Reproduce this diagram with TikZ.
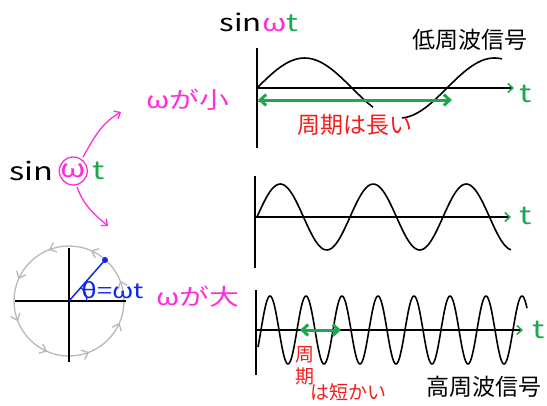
\documentclass[tikz,border=0pt]{standalone}
\usepackage{fontspec}
\newfontfamily\jpfont{Noto Sans CJK JP}
\newfontfamily\widefont[FakeStretch=1.3]{Noto Sans CJK JP}
\usetikzlibrary{arrows.meta, positioning, decorations.markings}
\definecolor{wmag}{HTML}{FF2EDC}
\definecolor{tgreen}{HTML}{1CA84E}
\definecolor{perred}{HTML}{F51C1C}
\definecolor{rotblue}{HTML}{0F28EB}
\definecolor{circgray}{HTML}{B8B8B8}

\begin{document}
\begin{tikzpicture}[x=1pt, y=-1pt,
    lbl/.style={font=\jpfont\fontsize{23}{23}\selectfont, inner sep=0pt},
    wlbl/.style={font=\widefont\fontsize{23}{23}\selectfont, inner sep=0pt},
    big/.style={font=\widefont\fontsize{25}{25}\selectfont, inner sep=0pt},
    sml/.style={font=\jpfont\fontsize{19}{19}\selectfont, inner sep=0pt},
    axis/.style={line width=1.6pt, -{Straight Barb[color=tgreen, length=5pt, width=9pt]}},
    wave/.style={line width=1.6pt, line join=round, smooth},
    period/.style={tgreen, line width=3pt, {Straight Barb[length=6pt, width=11pt]}-{Straight Barb[length=6pt, width=11pt]}},
    wbranch/.style={wmag, line width=1.3pt, -{Straight Barb[length=5pt, width=9pt]}}]

  \useasboundingbox (0,0) rectangle (547,405);

  % sin wt on the left, with the circled omega
  \node[big, anchor=west] (sinL) at (9,171) {sin};
  \node[big, text=wmag, right=7pt of sinL] (omg) {ω};
  \draw[wmag, line width=1.3pt] (omg) circle (14);
  \node[big, text=tgreen, right=6pt of omg] (tL) {t};
  \coordinate (upEnd) at (121,112);
  \coordinate (dnEnd) at (108,226);
  \draw[wbranch] (83,157) to[out=60, in=210] (upEnd);
  \draw[wbranch] (77,187) to[out=-70, in=140] (dnEnd);
  \node[wlbl, text=wmag] (small) at (188,100) {ωが小};
  \node[wlbl, text=wmag] (large) at (198,297) {ωが大};

  % rotating vector
  \coordinate (c0) at (69,301);
  \coordinate (rp) at (105,260);
  \draw[circgray, line width=1.3pt, postaction={decorate},
    decoration={markings, mark=between positions 0.06 and 1 step 0.125 with {\arrow{Straight Barb[length=6pt, width=10pt]}}}]
    (c0) ++(55,0) arc[start angle=0, end angle=-360, radius=55];
  \draw[line width=1.6pt] (15,301) -- (126,301);
  \draw[line width=1.6pt] (69,248) -- (69,362);
  \draw[rotblue, line width=1.5pt] (c0) -- (rp);
  \fill[rotblue] (rp) circle (3);
  \draw[rotblue, line width=1.2pt] (c0) ++(18,0) arc[start angle=0, end angle=-49, radius=18];
  \node[wlbl, text=rotblue, anchor=west, font=\widefont\fontsize{21}{21}\selectfont] (theta) at (81,290) {θ=ωt};

  % low frequency
  \node[big, font=\widefont\fontsize{24}{24}\selectfont] (ttl) at (259,22) {sin\textcolor{wmag}{ω}\textcolor{tgreen}{t}};
  \node[lbl] (low) at (470,40) {低周波信号};
  \coordinate (o1) at (257,88);
  \draw[line width=1.6pt] (257,48) -- (257,148);
  \draw[axis] (o1) -- (514,88) coordinate (e1);
  \node[big, text=tgreen] (t1) at (526,94) {t};
  \draw[wave] plot[domain=257:373, samples=40] (\x, {88-30*sin((\x-257)*1.8947)});
  \draw[wave] plot[domain=402:502, samples=40] (\x, {88-30*sin((\x-257)*1.8947)});
  \coordinate (p1a) at (258,100);
  \coordinate (p1b) at (452,100);
  \draw[perred, line width=0.8pt] (258,101) -- (446,101);
  \draw[period] (p1a) -- (p1b);
  \node[lbl, text=perred] (long) at (355,125) {周期は長い};

  % middle
  \draw[line width=1.6pt] (255,176) -- (255,268);
  \draw[axis] (255,217) -- (511,217) coordinate (e2);
  \node[big, text=tgreen] (t2) at (526,216) {t};
  \draw[wave] plot[domain=257:511, samples=120] (\x, {217-33*sin((\x-257)*3.871)});

  % high frequency
  \draw[line width=1.6pt] (256,290) -- (256,375);
  \draw[axis] (256,330) -- (523,330) coordinate (e3);
  \node[big, text=tgreen] (t3) at (539,330) {t};
  \draw[wave] plot[domain=258:527, samples=320] (\x, {330-34*sin((\x-261)*10)});
  \coordinate (p3a) at (300,330);
  \coordinate (p3b) at (341,330);
  \draw[period] (p3a) -- (p3b);
  \node[sml, text=perred] (shu) at (305,355) {周};
  \node[sml, text=perred] (ki) at (305,376) {期};
  \node[sml, text=perred, anchor=west] (short) at (310,392) {は短かい};
  \node[lbl, anchor=west] (high) at (426,387) {高周波信号};
\end{tikzpicture}
\end{document}
